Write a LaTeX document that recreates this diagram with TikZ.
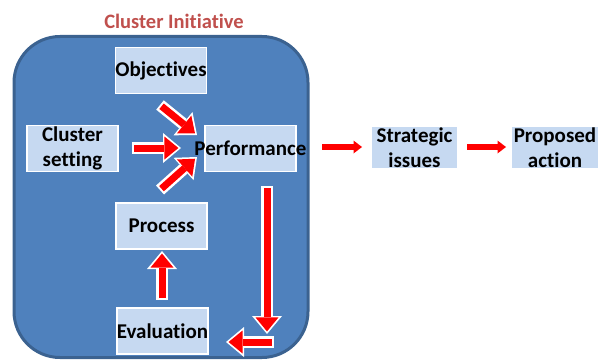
\documentclass[tikz,border=0pt]{standalone}
\usepackage{fontspec}
\setmainfont{Carlito}[Ligatures=NoCommon]
\usetikzlibrary{arrows.meta}
\definecolor{bigfill}{HTML}{4F81BD}
\definecolor{bigline}{HTML}{3B6290}
\definecolor{boxfill}{HTML}{C6D9F1}
\definecolor{titlered}{HTML}{C0504D}
\definecolor{arrred}{HTML}{FF0000}
\tikzset{
  txt/.style={font=\bfseries\fontsize{21}{25}\selectfont, align=center, text=black, inner sep=0pt},
  bx/.style={draw=white, line width=1.8pt, fill=boxfill, inner sep=0pt, minimum width=91pt, minimum height=46pt},
  pbx/.style={fill=boxfill, inner sep=0pt, minimum width=85pt, minimum height=41pt},
  wout/.style={draw=white, line width=12pt, -{Triangle[length=18pt,width=30pt,line width=0pt]}},
  rin/.style={draw=arrred, line width=7pt, shorten >=2.6pt, shorten <=2pt, -{Triangle[length=14pt,width=23pt,line width=0pt]}},
  rplain/.style={draw=arrred, line width=6.5pt, -{Triangle[length=8.5pt,width=13pt,line width=0pt]}}
}
\newcommand{\blockarrow}[2]{\draw[wout] (#1) -- (#2); \draw[rin] (#1) -- (#2);}
\begin{document}
\begin{tikzpicture}[x=1pt,y=-1pt]
\useasboundingbox (0,0) rectangle (601,361);
% container
\node[draw=bigline, line width=3pt, fill=bigfill, rounded corners=46pt, minimum width=294pt, minimum height=321pt, inner sep=0pt] (cluster) at (161,197) {};
\node[font=\bfseries\fontsize{20.5}{24}\selectfont, text=titlered, inner sep=0pt] (title) at (174,21) {Cluster Initiative};
% boxes
\node[bx, label={[txt]center:Objectives}] (obj) at (161,70.5) {};
\node[bx, label={[txt]center:Cluster\\setting}] (set) at (72.5,148.5) {};
\node[bx, label={[txt]center:Performance}] (perf) at (250.5,148.5) {};
\node[bx, label={[txt]center:Process}] (proc) at (161.5,226) {};
\node[bx, label={[txt]center:Evaluation}] (eval) at (162.5,331) {};
\node[pbx, label={[txt]center:Strategic\\issues}] (strat) at (414.5,147.5) {};
\node[pbx, minimum width=86pt, label={[txt]center:Proposed\\action}] (prop) at (555,147.5) {};
% arrow end points
\coordinate (hS) at (132,148);  \coordinate (hE) at (181,148);
\coordinate (oS) at (160,105);  \coordinate (oE) at (197,135);
\coordinate (pS) at (160,190);  \coordinate (pE) at (197,157);
\coordinate (dS) at (267,186);  \coordinate (dE) at (267,334);
\coordinate (lS) at (274,342);  \coordinate (lE) at (226,342);
\coordinate (uS) at (162,300);  \coordinate (uE) at (162,251);
\coordinate (x1S) at (322,147); \coordinate (x1E) at (362,147);
\coordinate (x2S) at (467,147); \coordinate (x2E) at (506,147);
\blockarrow{hS}{hE}
\blockarrow{oS}{oE}
\blockarrow{pS}{pE}
\blockarrow{dS}{dE}
\blockarrow{lS}{lE}
\blockarrow{uS}{uE}
\draw[rplain] (x1S) -- (x1E);
\draw[rplain] (x2S) -- (x2E);
\end{tikzpicture}
\end{document}
